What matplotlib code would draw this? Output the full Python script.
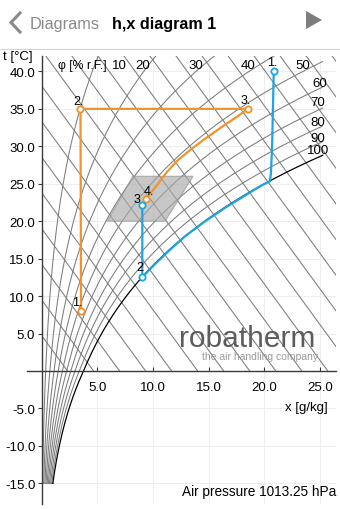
import numpy as np
import matplotlib
matplotlib.use('Agg')
import matplotlib.pyplot as plt
from matplotlib.patches import Polygon
from matplotlib.lines import Line2D

plt.rcParams['font.family'] = ['Liberation Sans', 'DejaVu Sans']

p_luft = 101325.0  # Pa

# Kurvenschar
phi_werte = [10, 20, 30, 40, 50, 60, 70, 80, 90, 100]
h_werte = np.arange(5, 125, 5)  # kJ/kg
t_ticks = [-15, -10, -5, 5, 10, 15, 20, 25, 30, 35, 40]
x_ticks = [5, 10, 15, 20, 25]

# Behaglichkeitsfeld
feld_x = [5.9, 11.1, 13.6, 8.2]
feld_t = [20.0, 20.0, 26.0, 26.0]

# Prozess orange
orange_x = [3.55, 3.5, 18.55, 17.64, 16.2, 14.68, 13.33, 12.16, 11.18, 10.37, 9.74, 9.38]
orange_t = [8.0, 35.0, 35.0, 34.05, 32.6, 31.0, 29.5, 28.04, 26.43, 24.83, 23.63, 22.96]
orange_px = [3.55, 3.5, 18.55, 9.38]
orange_pt = [8.0, 35.0, 35.0, 22.96]
orange_namen = ['1.', '2.', '3.', '4.']

# Prozess blau
blau_x = [20.85, 20.7, 20.6, 20.5, 19.9, 18.9, 16.7, 14.7, 12.9, 11.4, 10.0, 9.05, 9.05]
blau_t = [40.1, 30.0, 26.5, 25.3, 24.9, 24.0, 22.0, 20.0, 18.0, 16.0, 14.0, 12.5, 22.1]
blau_px = [20.85, 9.05, 9.05]
blau_pt = [40.1, 12.5, 22.1]
blau_namen = ['1.', '2', '3']


def p_s(t):
    t = np.asarray(t, dtype=float)
    wasser = 611.2*np.exp(17.62*t/(243.12+t))
    eis = 611.2*np.exp(22.46*t/(272.62+t))
    return np.where(t >= 0, wasser, eis)


def x_phi(phi, t):
    pd = phi/100.0*p_s(t)
    return 622.0*pd/(p_luft-pd)


# Pixelraster des Originals
W, H = 340, 510
x0_px, x_scale = 41.5, 11.14
t0_px, t_scale = 372.0, 7.49
links, rechts, oben, unten = 41.5, 336.0, 57.0, 505.0
x_max = (rechts-x0_px)/x_scale
t_oben = (t0_px-oben)/t_scale
t_unten = (t0_px-unten)/t_scale

fig = plt.figure(figsize=(W/100, H/100), dpi=100)
ax = fig.add_axes([links/W, 1-unten/H, (rechts-links)/W, (unten-oben)/H])
ax.set_xlim(0, x_max)
ax.set_ylim(t_unten, t_oben)

gitter = '#7c7c7c'

# Isenthalpen (Steigung)
r_h, c_h = 2.14, 1.05
for h in h_werte:
    xe = min(h/r_h, x_max)
    xx = np.linspace(0, xe, 50)
    tt = (h-r_h*xx)/c_h
    ax.plot(xx, tt, color=gitter, lw=0.75, zorder=2)

# Linien konstanter relativer Feuchte
x_rand = 25.3
tt = np.linspace(-15, t_oben+1, 600)
for phi in phi_werte:
    xx = x_phi(phi, tt)
    m = xx <= x_rand
    if phi == 100:
        ax.plot(xx[m], tt[m], color='black', lw=0.9, zorder=3)
    else:
        ax.plot(xx[m], tt[m], color=gitter, lw=0.75, zorder=2)
ax.plot([0, x_phi(100, -15)], [-15, -15], color=gitter, lw=0.75, zorder=2)

# Behaglichkeitsfeld
ax.add_patch(Polygon(np.column_stack([feld_x, feld_t]), closed=True,
                     facecolor='#a9a9a9', alpha=0.65, edgecolor='#8e8e8e',
                     lw=0.8, zorder=4))

# Prozesse
c_or = '#f0932b'
c_bl = '#1ea5e0'
ax.plot(orange_x, orange_t, color=c_or, lw=1.6, zorder=6)
ax.plot(orange_px, orange_pt, 'o', ms=4.5, mfc='white', mec=c_or, mew=1.3, zorder=7)
ax.plot(blau_x, blau_t, color=c_bl, lw=1.6, zorder=6)
ax.plot(blau_px, blau_pt, 'o', ms=4.5, mfc='white', mec=c_bl, mew=1.3, zorder=7)

orange_off = [(-4, 9), (-2, 8), (-2, 9), (3, 8)]
for x, t, n, o in zip(orange_px, orange_pt, orange_namen, orange_off):
    ax.annotate(n, (x, t), xytext=o, textcoords='offset pixels',
                ha='center', va='center', fontsize=9, zorder=8)
blau_off = [(-2, 9), (-3, 10), (-5, 6)]
for x, t, n, o in zip(blau_px, blau_pt, blau_namen, blau_off):
    ax.annotate(n, (x, t), xytext=o, textcoords='offset pixels',
                ha='center', va='center', fontsize=9, zorder=8)

# Achsen
for s in ['top', 'right', 'bottom']:
    ax.spines[s].set_visible(False)
ax.spines['left'].set_color('#3a3a3a')
ax.spines['left'].set_linewidth(1.0)
ax.spines['bottom'].set_position(('data', 0))
ax.plot([-1.3, x_max], [0, 0], color='#3a3a3a', lw=1.0, clip_on=False, zorder=5)

ax.set_yticks(t_ticks)
ax.set_yticklabels(['%.1f' % v for v in t_ticks])
ax.set_xticks(x_ticks)
ax.set_xticklabels(['%.1f' % v for v in x_ticks])
ax.tick_params(axis='y', direction='out', length=3, width=0.8, pad=1.5,
               labelsize=9.5, color='#3a3a3a')
ax.tick_params(axis='x', direction='in', length=3, width=0.8, pad=7,
               labelsize=9.5, color='#3a3a3a')
ax.grid(True, color='#eeeeee', lw=0.8, zorder=0)
ax.set_axisbelow(True)

ax.text(-3.45, 42.0, 't [°C]', fontsize=9.5, ha='left', va='center')
ax.text(25.7, -4.8, 'x [g/kg]', fontsize=9.5, ha='right', va='center')
ax.text(1.5, 40.85, 'φ [% r.F.]', fontsize=8.8, ha='left', va='center', zorder=8)

phi_lab_x = [7.0, 9.11, 13.87, 18.54, 23.47, 25.0, 24.8, 24.8, 24.8, 24.8]
phi_lab_t = [40.85, 40.85, 40.85, 40.85, 40.85, 38.5, 35.9, 33.3, 31.1, 29.5]
for phi, x, t in zip(phi_werte, phi_lab_x, phi_lab_t):
    ax.text(x, t, str(phi), fontsize=9.5, ha='center', va='center', zorder=8)

# Logo
ax.text(12.3, 3.3, 'robatherm', fontsize=21.5, color='#5c5c5c',
        ha='left', va='baseline', zorder=8)
ax.text(24.8, 2.65, 'the air handling company', fontsize=7.5, color='#9a9a9a',
        ha='right', va='top', zorder=8)

fig.text(336/W, 1-496/H, 'Air pressure 1013.25 hPa', fontsize=9.8,
         ha='right', va='baseline')

# Kopfzeile
fig.add_artist(Line2D([20/W, 11/W, 20/W], [1-14/H, 1-23.5/H, 1-33/H],
                      color='#8a8a8a', lw=2.2, solid_joinstyle='miter'))
fig.text(30/W, 1-29/H, 'Diagrams', fontsize=11.8, color='#8a8a8a', va='baseline')
fig.text(112/W, 1-29/H, 'h,x diagram 1', fontsize=11.6, fontweight='bold',
         color='black', va='baseline')
fig.add_artist(Polygon([[306/W, 1-12/H], [306/W, 1-30/H], [322/W, 1-21/H]],
                       closed=True, facecolor='#7d7d7d', edgecolor='none',
                       transform=fig.transFigure))
fig.add_artist(Line2D([0, 1], [1-49.5/H, 1-49.5/H], color='#d4d4d4', lw=0.8))

fig.savefig('out.png', dpi=100)
